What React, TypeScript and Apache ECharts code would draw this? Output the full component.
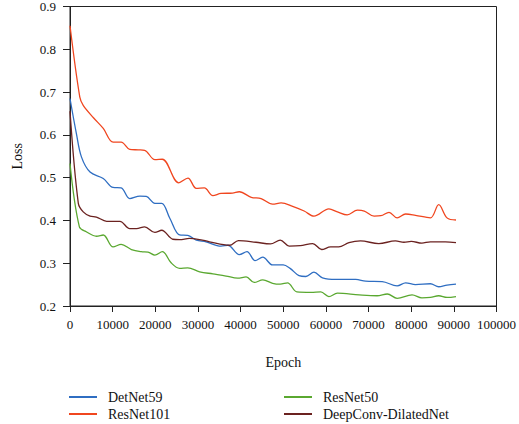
import React, { useEffect, useRef } from "react";
import * as echarts from "echarts";

const xTicks = { min: 0, max: 100000, interval: 10000 };
const yTicks = { min: 0.2, max: 0.9, interval: 0.1 };

const seriesNames = ["DetNet59", "ResNet101", "ResNet50", "DeepConv-DilatedNet"];

const detNetEpoch = [0, 1500, 2700, 4700, 7800, 10100, 12000, 14000, 16400, 17900, 19900, 21500, 23400, 25700, 27600, 29600, 31900, 35400, 37000, 39700, 41500, 43400, 45200, 47500, 50000, 51600, 53700, 55300, 57200, 59200, 62300, 67000, 69300, 73200, 76700, 78700, 81000, 84500, 86450, 88400, 90500];
const detNetLoss = [0.685, 0.603, 0.548, 0.513, 0.498, 0.477, 0.476, 0.451, 0.457, 0.456, 0.44, 0.44, 0.405, 0.366, 0.365, 0.354, 0.35, 0.34, 0.342, 0.32, 0.327, 0.306, 0.314, 0.296, 0.296, 0.288, 0.271, 0.269, 0.279, 0.266, 0.262, 0.262, 0.258, 0.257, 0.247, 0.254, 0.25, 0.252, 0.245, 0.249, 0.251];

const resNet101Epoch = [0, 2300, 3100, 5500, 7800, 10100, 12000, 14000, 16000, 17500, 19900, 21650, 25500, 27650, 29600, 31500, 33500, 35400, 38100, 39700, 42500, 44800, 47500, 49500, 52200, 54900, 57200, 60700, 62700, 65000, 67400, 69000, 71300, 72900, 74800, 76700, 78700, 81000, 84500, 86450, 88400, 90500];
const resNet101Loss = [0.855, 0.688, 0.669, 0.64, 0.615, 0.583, 0.583, 0.566, 0.565, 0.564, 0.542, 0.543, 0.488, 0.499, 0.475, 0.476, 0.458, 0.463, 0.464, 0.467, 0.454, 0.451, 0.438, 0.441, 0.433, 0.422, 0.41, 0.427, 0.42, 0.413, 0.424, 0.422, 0.41, 0.411, 0.419, 0.406, 0.415, 0.412, 0.406, 0.437, 0.406, 0.401];

const resNet50Epoch = [0, 2200, 3900, 6200, 7800, 10100, 12000, 14400, 16700, 18300, 19900, 21650, 23700, 25700, 27600, 30400, 33500, 36600, 39300, 41300, 43200, 45200, 47500, 49300, 51000, 53200, 56500, 58800, 60700, 62700, 67800, 72000, 74400, 76700, 80200, 82500, 84500, 86450, 88400, 90500];
const resNet50Loss = [0.533, 0.385, 0.373, 0.363, 0.366, 0.338, 0.344, 0.332, 0.327, 0.326, 0.319, 0.327, 0.301, 0.288, 0.289, 0.28, 0.275, 0.27, 0.265, 0.268, 0.255, 0.261, 0.253, 0.251, 0.254, 0.233, 0.232, 0.233, 0.222, 0.23, 0.226, 0.224, 0.228, 0.218, 0.226, 0.219, 0.22, 0.224, 0.22, 0.222];

const dilatedEpoch = [0, 1950, 3100, 4700, 6200, 8600, 11700, 14000, 15600, 17500, 19900, 21500, 24100, 25700, 28000, 31000, 32700, 37400, 39500, 43600, 47000, 49300, 51400, 54000, 56900, 59000, 61100, 63000, 65400, 68100, 72400, 76300, 78300, 80000, 82500, 84500, 88000, 90500];
const dilatedLoss = [0.655, 0.44, 0.42, 0.41, 0.408, 0.398, 0.398, 0.381, 0.381, 0.385, 0.372, 0.377, 0.356, 0.355, 0.358, 0.354, 0.35, 0.342, 0.353, 0.349, 0.345, 0.354, 0.34, 0.341, 0.346, 0.332, 0.338, 0.338, 0.348, 0.352, 0.346, 0.352, 0.349, 0.351, 0.347, 0.35, 0.35, 0.348];

const colors = ["#2f6ec2", "#f0461f", "#5aa830", "#6b2220"];

const pair = (xs: number[], ys: number[]) => xs.map((x, i) => [x, ys[i]]);

const FONT = "Liberation Serif";

export default function App() {
  const ref = useRef<HTMLDivElement>(null);
  useEffect(() => {
    if (!ref.current) return;
    const chart = echarts.init(ref.current, undefined, { renderer: "svg" });
    const datasets = [
      pair(detNetEpoch, detNetLoss),
      pair(resNet101Epoch, resNet101Loss),
      pair(resNet50Epoch, resNet50Loss),
      pair(dilatedEpoch, dilatedLoss),
    ];
    const legendCommon = {
      orient: "vertical",
      icon: "rect",
      itemWidth: 28,
      itemHeight: 2,
      itemGap: 3,
      padding: 0,
      height: 34,
      textStyle: { fontFamily: FONT, fontSize: 14, color: "#111", padding: [0, 0, 0, 6], lineHeight: 14 },
    };
    chart.setOption({
      animation: false,
      textStyle: { fontFamily: FONT },
      color: colors,
      grid: { left: 70, right: 21, top: 6, bottom: 118, show: true, borderColor: "#222", borderWidth: 1 },
      legend: [
        { ...legendCommon, left: 69, top: 390, data: [seriesNames[0], seriesNames[1]] },
        { ...legendCommon, left: 284, top: 390, data: [seriesNames[2], seriesNames[3]] },
      ],
      xAxis: {
        type: "value",
        min: xTicks.min,
        max: xTicks.max,
        interval: xTicks.interval,
        name: "Epoch",
        nameLocation: "middle",
        nameGap: 49,
        nameTextStyle: { fontFamily: FONT, fontSize: 14, color: "#111" },
        axisLine: { lineStyle: { color: "#222", width: 1 } },
        axisTick: { show: true, length: 6, lineStyle: { color: "#222" } },
        axisLabel: { fontFamily: FONT, fontSize: 13, color: "#111", margin: 12, formatter: (v: number) => String(v) },
        splitLine: { show: false },
      },
      yAxis: {
        type: "value",
        min: yTicks.min,
        max: yTicks.max,
        interval: yTicks.interval,
        name: "Loss",
        nameLocation: "middle",
        nameGap: 46,
        nameTextStyle: { fontFamily: FONT, fontSize: 14, color: "#111" },
        axisLine: { show: true, lineStyle: { color: "#222", width: 1 } },
        axisTick: { show: true, length: 7, lineStyle: { color: "#222" } },
        axisLabel: { fontFamily: FONT, fontSize: 13, color: "#111", margin: 14, formatter: (v: number) => v.toFixed(1) },
        splitLine: { show: false },
      },
      series: seriesNames.map((name, i) => ({
        name,
        type: "line",
        data: datasets[i],
        smooth: 0.35,
        symbol: "none",
        lineStyle: { width: 1.3, color: colors[i] },
        itemStyle: { color: colors[i] },
      })),
    });
    return () => chart.dispose();
  }, []);
  return <div ref={ref} style={{ width: 519, height: 424, position: "absolute", left: 0, top: 0 }} />;
}
